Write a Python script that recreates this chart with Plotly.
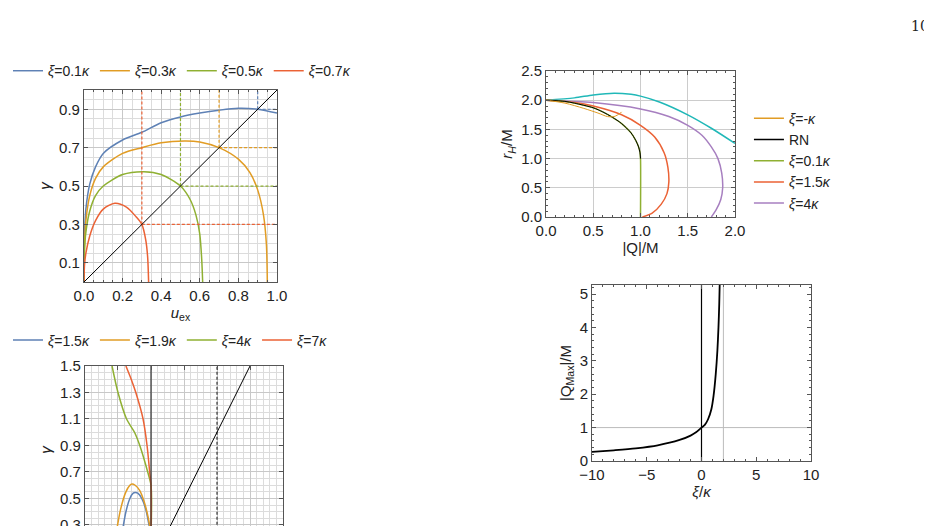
import plotly.graph_objects as go

# ---- Panel A data (gamma vs u_ex)
a_blue_x = [0.0, 0.003, 0.01, 0.03, 0.06, 0.1, 0.2, 0.3, 0.4, 0.5, 0.6, 0.7, 0.8, 0.9, 1.0]
a_blue_y = [0.0, 0.25, 0.38, 0.51, 0.6, 0.67, 0.74, 0.78, 0.83, 0.86, 0.88, 0.895, 0.905, 0.9, 0.88]
a_orange_x = [0.0, 0.003, 0.01, 0.03, 0.06, 0.1, 0.2, 0.3, 0.4, 0.52, 0.6, 0.7, 0.8, 0.86, 0.9, 0.93, 0.945, 0.95]
a_orange_y = [0.0, 0.2, 0.32, 0.45, 0.54, 0.6, 0.67, 0.7, 0.725, 0.735, 0.73, 0.7, 0.64, 0.57, 0.48, 0.35, 0.2, 0.0]
a_green_x = [0.0, 0.003, 0.01, 0.03, 0.06, 0.1, 0.2, 0.31, 0.4, 0.5, 0.55, 0.58, 0.6, 0.61, 0.615]
a_green_y = [0.0, 0.17, 0.26, 0.37, 0.45, 0.5, 0.56, 0.575, 0.56, 0.5, 0.43, 0.35, 0.25, 0.12, 0.0]
a_red_x = [0.0, 0.003, 0.01, 0.03, 0.06, 0.1, 0.16, 0.22, 0.27, 0.3, 0.32, 0.33, 0.335]
a_red_y = [0.0, 0.09, 0.15, 0.24, 0.32, 0.38, 0.41, 0.39, 0.34, 0.3, 0.22, 0.13, 0.0]
a_marks = [0.9, 0.7, 0.5, 0.3]

# ---- Panel B data
b_blue_x = [-0.44, -0.38, -0.32, -0.27, -0.24, -0.2, -0.14, -0.08, -0.03, 0.0]
b_blue_y = [0.23, 0.4, 0.5, 0.54, 0.545, 0.54, 0.5, 0.42, 0.3, 0.23]
b_orange_x = [-0.53, -0.46, -0.38, -0.32, -0.29, -0.24, -0.17, -0.1, -0.04, 0.0]
b_orange_y = [0.23, 0.42, 0.55, 0.6, 0.61, 0.6, 0.56, 0.47, 0.35, 0.23]
b_green_x = [-0.59, -0.5, -0.37, -0.25, -0.17, -0.05, 0.0, 0.0]
b_green_y = [1.5, 1.3, 1.1, 1.0, 0.9, 0.7, 0.6, 0.23]
b_red_x = [-0.38, -0.3, -0.23, -0.12, -0.06, -0.02, 0.0, 0.0]
b_red_y = [1.5, 1.4, 1.3, 1.1, 0.9, 0.7, 0.6, 0.23]

# ---- Panel C data (r_H/M vs |Q|/M)
c_cyan_x = [0.0, 0.3, 0.5, 0.72, 0.9, 1.0, 1.2, 1.5, 1.75, 2.0]
c_cyan_y = [2.0, 2.04, 2.09, 2.12, 2.1, 2.07, 1.97, 1.75, 1.52, 1.26]
c_purple_x = [0.0, 0.5, 1.0, 1.3, 1.5, 1.65, 1.75, 1.82, 1.86, 1.87, 1.85, 1.8, 1.75]
c_purple_y = [2.0, 1.96, 1.85, 1.72, 1.57, 1.4, 1.2, 1.0, 0.75, 0.5, 0.3, 0.12, 0.0]
c_red_x = [0.0, 0.3, 0.5, 0.8, 1.0, 1.15, 1.25, 1.29, 1.3, 1.28, 1.22, 1.12, 1.02]
c_red_y = [2.0, 1.96, 1.9, 1.75, 1.57, 1.37, 1.1, 0.85, 0.6, 0.4, 0.22, 0.06, 0.0]
c_rn_x = [0.0, 0.2, 0.3, 0.5, 0.6, 0.7, 0.8, 0.9, 0.95, 0.98, 0.995, 1.0]
c_rn_y = [2.0, 1.98, 1.95, 1.87, 1.8, 1.71, 1.6, 1.44, 1.31, 1.2, 1.1, 1.0]
c_green_x = c_rn_x + [1.0]
c_green_y = c_rn_y + [0.0]
c_orange_x = [0.0, 0.2, 0.4, 0.55, 0.65, 0.72, 0.78, 0.8]
c_orange_y = [2.0, 1.95, 1.86, 1.78, 1.72, 1.72, 1.77, 1.8]

# ---- Panel D data (|Q_Max|/M vs xi/kappa)
d_x = [-10, -8, -6, -4, -2, -1, -0.5, 0, 0.3, 0.6, 0.9, 1.1, 1.3, 1.45, 1.55, 1.62, 1.66]
d_y = [0.27, 0.32, 0.38, 0.47, 0.63, 0.76, 0.86, 1.0, 1.08, 1.25, 1.55, 1.95, 2.6, 3.3, 4.0, 4.7, 5.27]

BLUE, ORANGE, GREEN, RED = "#5E81B5", "#E19C24", "#8FB032", "#EB6235"
PURPLE, CYAN = "#A77FC0", "#20B8B8"
F = "Liberation Sans, Arial, sans-serif"

fig = go.Figure()

def line(x, y, color, xa, ya, name=None, legend=None, dash=None, width=1.5, shape="spline"):
    fig.add_trace(go.Scatter(x=x, y=y, mode="lines", xaxis=xa, yaxis=ya,
                             line=dict(color=color, width=width, dash=dash, shape=shape,
                                       smoothing=0.8),
                             name=name, showlegend=name is not None,
                             legend=legend or "legend"))

# Panel A
for xs, ys, c, n in [(a_blue_x, a_blue_y, BLUE, "0.1"), (a_orange_x, a_orange_y, ORANGE, "0.3"),
                     (a_green_x, a_green_y, GREEN, "0.5"), (a_red_x, a_red_y, RED, "0.7")]:
    line(xs, ys, c, "x", "y", f"<i>ξ</i>=0{n[1:]}<i>κ</i>", "legend")
for v, c in zip(a_marks, [BLUE, ORANGE, GREEN, RED]):
    line([v, v], [v, 1], c, "x", "y", dash="3px,2px", width=1.2, shape="linear")
    line([v, 1], [v, v], c, "x", "y", dash="3px,2px", width=1.2, shape="linear")
line([0, 1], [0, 1], "black", "x", "y", width=1, shape="linear")

# Panel B
for xs, ys, c, n in [(b_blue_x, b_blue_y, BLUE, "1.5"), (b_orange_x, b_orange_y, ORANGE, "1.9"),
                     (b_green_x, b_green_y, GREEN, "4"), (b_red_x, b_red_y, RED, "7")]:
    line(xs, ys, c, "x2", "y2", f"<i>ξ</i>={n}<i>κ</i>", "legend2")
line([0, 0], [0, 1.5], "#333", "x2", "y2", width=1.2, shape="linear")
line([1, 1], [0, 1.5], "#333", "x2", "y2", dash="3px,2px", width=1.2, shape="linear")
line([0, 1.5], [0, 1.5], "black", "x2", "y2", width=1, shape="linear")

# Panel C
line(c_cyan_x, c_cyan_y, CYAN, "x3", "y3")
line(c_purple_x, c_purple_y, PURPLE, "x3", "y3")
line(c_red_x, c_red_y, RED, "x3", "y3")
line(c_green_x, c_green_y, GREEN, "x3", "y3")
line(c_rn_x, c_rn_y, "black", "x3", "y3", width=1)
line(c_orange_x, c_orange_y, ORANGE, "x3", "y3", width=1)
for c, n in [(ORANGE, "<i>ξ</i>=-<i>κ</i>"), ("black", "RN"), (GREEN, "<i>ξ</i>=0.1<i>κ</i>"),
             (RED, "<i>ξ</i>=1.5<i>κ</i>"), (PURPLE, "<i>ξ</i>=4<i>κ</i>")]:
    line([None], [None], c, "x3", "y3", n, "legend3")

# Panel D
line([0, 0], [0, 5.27], "black", "x4", "y4", width=1.2, shape="linear")
line([2, 2], [0, 5.27], "#bbb", "x4", "y4", width=1, shape="linear")
line([-10, 10], [1, 1], "#bbb", "x4", "y4", width=1, shape="linear")
line(d_x, d_y, "black", "x4", "y4", width=1.8)

ax = dict(showline=True, mirror="allticks", linecolor="#555", linewidth=1, ticks="inside",
          ticklen=4, tickcolor="#555", zeroline=False, automargin=False,
          tickfont=dict(size=15, color="#222", family=F),
          title_font=dict(size=15, color="#222", family=F), title_standoff=4)
gridA = dict(showgrid=True, gridcolor="#c8c8c8", gridwidth=1)

fig.update_layout(
    width=932, height=526, margin=dict(l=0, r=0, t=0, b=0, autoexpand=False),
    plot_bgcolor="white", paper_bgcolor="white", font=dict(family=F, color="#222"),
    xaxis=dict(ax, domain=[0.0815, 0.2886], anchor="y", range=[0, 1], dtick=0.2, tickformat=".1f",
               title_text="<i>u</i><sub>ex</sub>", **gridA,
               minor=dict(dtick=0.05, showgrid=True, gridcolor="#dcdcdc", ticks="inside", ticklen=2)),
    yaxis=dict(ax, domain=[0.479, 0.844], anchor="x", range=[0, 1], tickvals=[0.1, 0.3, 0.5, 0.7, 0.9],
               title_text="<i>γ</i>", **gridA,
               minor=dict(dtick=0.05, showgrid=True, gridcolor="#dcdcdc")),
    xaxis2=dict(ax, domain=[0.0826, 0.2951], anchor="y2", range=[-1, 2], showticklabels=False,
                dtick=0.5, **gridA, minor=dict(dtick=0.1, showgrid=True, gridcolor="#dcdcdc")),
    yaxis2=dict(ax, domain=[0, 0.3194], anchor="x2", range=[0.232, 1.5],
                tickvals=[0.3, 0.5, 0.7, 0.9, 1.1, 1.3, 1.5], tickformat=".1f",
                title_text="<i>γ</i>", **gridA, minor=dict(dtick=0.05, showgrid=True, gridcolor="#dcdcdc")),
    xaxis3=dict(ax, domain=[0.5773, 0.7800], anchor="y3", range=[0, 2], dtick=0.5, tickformat=".1f",
                title_text="|Q|/M", showgrid=True, gridcolor="#cccccc",
                minor=dict(dtick=0.1, ticks="inside", ticklen=2, tickcolor="#555")),
    yaxis3=dict(ax, domain=[0.6027, 0.8802], anchor="x3", range=[0, 2.5], dtick=0.5, tickformat=".1f",
                title_text="<i>r<sub>H</sub></i>/M", showgrid=True, gridcolor="#cccccc",
                minor=dict(dtick=0.1, ticks="inside", ticklen=2, tickcolor="#555")),
    xaxis4=dict(ax, domain=[0.6266, 0.8616], anchor="y4", range=[-10, 10],
                tickvals=[-10, -5, 0, 5, 10], ticktext=["−10", "−5", "0", "5", "10"],
                title_text="<i>ξ</i>/<i>κ</i>", showgrid=False,
                minor=dict(dtick=1, ticks="inside", ticklen=2, tickcolor="#555")),
    yaxis4=dict(ax, domain=[0.1388, 0.4734], anchor="x4", range=[0, 5.27], dtick=1,
                title_text="|Q<sub>Max</sub>|/M", showgrid=False,
                minor=dict(dtick=0.2, ticks="inside", ticklen=2, tickcolor="#555")),
    legend=dict(orientation="h", x=0.0, y=0.88, xanchor="left", yanchor="middle",
                font=dict(size=14, family=F), itemwidth=30, bgcolor="rgba(0,0,0,0)"),
    legend2=dict(orientation="h", x=0.0, y=0.368, xanchor="left", yanchor="middle",
                 font=dict(size=14, family=F), itemwidth=30, bgcolor="rgba(0,0,0,0)"),
    legend3=dict(x=0.795, y=0.82, xanchor="left", yanchor="top", font=dict(size=14, family=F),
                 itemwidth=30, tracegroupgap=0, bgcolor="rgba(0,0,0,0)"),
    annotations=[dict(text="10", x=0.99, y=0.965, xref="paper", yref="paper", xanchor="right",
                      yanchor="middle", showarrow=False,
                      font=dict(size=14, family="DejaVu Serif, serif", color="#222"))],
)
fig.write_html("out.html")
